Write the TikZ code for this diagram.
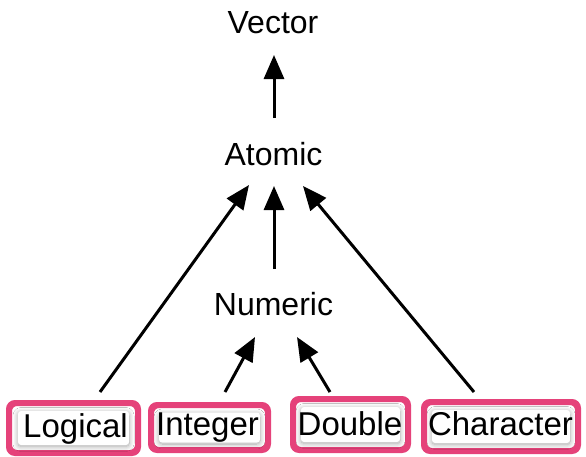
\documentclass[tikz,border=0pt]{standalone}
\usepackage{fontspec}
\setmainfont{Liberation Sans}
\usetikzlibrary{arrows.meta,shadows.blur}
\definecolor{boxpink}{HTML}{E5427A}
\begin{document}
\begin{tikzpicture}[x=1pt,y=-1pt,
  lbl/.style={font=\fontsize{32}{38}\selectfont, anchor=base, inner sep=0pt},
  blbl/.style={font=\fontsize{33}{38}\selectfont, anchor=base, inner sep=0pt},
  arr/.style={line width=3pt, -{Triangle[width=20pt,length=24pt]}},
  pinkbox/.style={draw=boxpink, line width=4pt, rounded corners=7pt, fill=white},
  glow/.style={fill=white, inner sep=0pt, rounded corners=3pt, blur shadow={shadow xshift=0pt, shadow yshift=-1.5pt, shadow blur radius=5pt, shadow blur steps=12, shadow opacity=35}}]
\useasboundingbox (0,0) rectangle (586,456);
% boxes
\node[pinkbox, minimum width=127pt, minimum height=48pt] (blog) at (73.5,428) {};
\node[pinkbox, minimum width=115pt, minimum height=43pt] (bint) at (209.5,427.5) {};
\node[pinkbox, minimum width=113pt, minimum height=49pt] (bdbl) at (350.5,424.5) {};
\node[pinkbox, minimum width=152pt, minimum height=47pt] (bchr) at (501,426.5) {};
\node[glow, minimum width=111pt, minimum height=34pt] at (blog) {};
\node[glow, minimum width=101pt, minimum height=30pt] at (bint) {};
\node[glow, minimum width=99pt, minimum height=35pt] at (bdbl) {};
\node[glow, minimum width=138pt, minimum height=33pt] at (bchr) {};
\draw[draw=boxpink, line width=4pt, rounded corners=7pt] (blog.north west) rectangle (blog.south east);
\draw[draw=boxpink, line width=4pt, rounded corners=7pt] (bint.north west) rectangle (bint.south east);
\draw[draw=boxpink, line width=4pt, rounded corners=7pt] (bdbl.north west) rectangle (bdbl.south east);
\draw[draw=boxpink, line width=4pt, rounded corners=7pt] (bchr.north west) rectangle (bchr.south east);
% labels
\node[lbl] (vec) at (273,33) {Vector};
\node[lbl] (atom) at (273.5,165) {Atomic};
\node[lbl] (num) at (273.5,315) {Numeric};
\node[blbl] (log) at (75.5,437) {Logical};
\node[blbl] (int) at (207.5,435) {Integer};
\node[blbl] (dbl) at (350,435) {Double};
\node[blbl] (chr) at (500.5,435) {Character};
% arrow ends
\coordinate (av0) at (274,118);
\coordinate (av1) at (274,55);
\coordinate (na0) at (274,269);
\coordinate (na1) at (274,186);
\coordinate (la0) at (100,392);
\coordinate (la1) at (249,185);
\coordinate (ca0) at (474,392);
\coordinate (ca1) at (303,186);
\coordinate (in0) at (225,392);
\coordinate (in1) at (255,337);
\coordinate (dn0) at (330,392);
\coordinate (dn1) at (297,337);
\draw[arr] (av0) -- (av1);
\draw[arr] (na0) -- (na1);
\draw[arr] (la0) -- (la1);
\draw[arr] (ca0) -- (ca1);
\draw[arr] (in0) -- (in1);
\draw[arr] (dn0) -- (dn1);
\end{tikzpicture}
\end{document}
